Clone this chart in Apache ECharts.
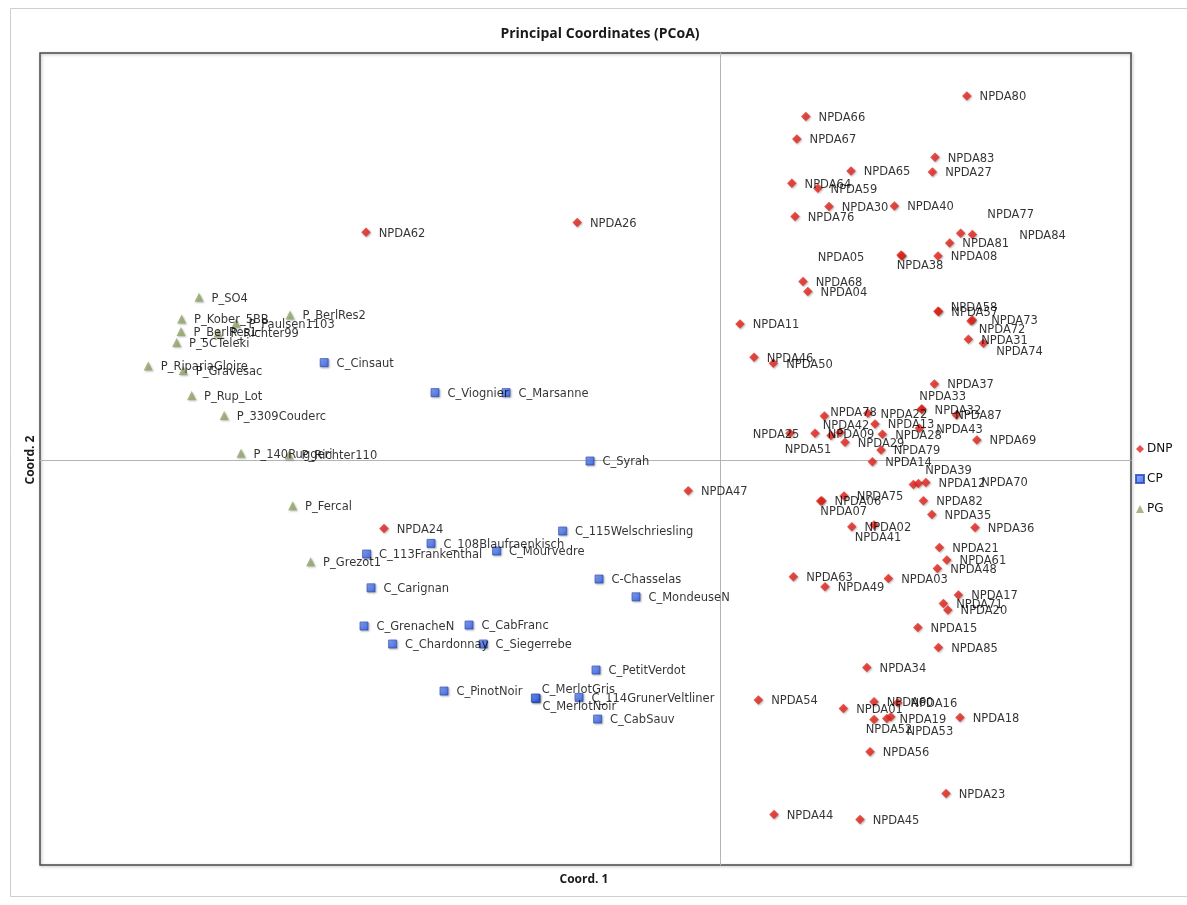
<!DOCTYPE html>
<html>
<head>
<meta charset="utf-8">
<title>Principal Coordinates (PCoA)</title>
<script src="https://cdn.jsdelivr.net/npm/echarts@6/dist/echarts.min.js"></script>
<style>
  html, body { margin: 0; padding: 0; background: #ffffff; }
  #chart { width: 1187px; height: 905px; }
</style>
</head>
<body>
<div id="chart"></div>
<script>
// ---- PCoA scores: Coord. 1 (x) and Coord. 2 (y) for each accession ----

const dnpNames = [
  'NPDA80','NPDA66','NPDA67','NPDA83','NPDA65','NPDA27','NPDA64','NPDA59','NPDA30','NPDA40',
  'NPDA76','NPDA77','NPDA84','NPDA81','NPDA08','NPDA38','NPDA05','NPDA68','NPDA04','NPDA58',
  'NPDA57','NPDA73','NPDA72','NPDA31','NPDA74','NPDA11','NPDA46','NPDA50','NPDA37','NPDA33',
  'NPDA32','NPDA87','NPDA78','NPDA22','NPDA42','NPDA13','NPDA25','NPDA09','NPDA28','NPDA43',
  'NPDA51','NPDA29','NPDA79','NPDA69','NPDA14','NPDA39','NPDA70','NPDA12','NPDA47','NPDA75',
  'NPDA06','NPDA07','NPDA82','NPDA35','NPDA36','NPDA02','NPDA41','NPDA21','NPDA61','NPDA48',
  'NPDA63','NPDA49','NPDA03','NPDA17','NPDA71','NPDA20','NPDA15','NPDA85','NPDA34','NPDA54',
  'NPDA01','NPDA60','NPDA16','NPDA19','NPDA53','NPDA52','NPDA18','NPDA56','NPDA23','NPDA44',
  'NPDA45','NPDA62','NPDA26','NPDA24'
];
const dnpScores = [
  [0.1234,0.1820],[0.0429,0.1717],[0.0384,0.1605],[0.1075,0.1514],[0.0655,0.1445],
  [0.1062,0.1440],[0.0359,0.1384],[0.0489,0.1359],[0.0545,0.1267],[0.0872,0.1270],
  [0.0375,0.1217],[0.1203,0.1134],[0.1262,0.1127],[0.1148,0.1085],[0.1090,0.1020],
  [0.0910,0.1020],[0.0905,0.1025],[0.0415,0.0892],[0.0439,0.0842],[0.1090,0.0744],
  [0.1093,0.0743],[0.1262,0.0700],[0.1255,0.0695],[0.1242,0.0604],[0.1317,0.0584],
  [0.0100,0.0680],[0.0170,0.0514],[0.0267,0.0484],[0.1072,0.0380],[0.1008,0.0255],
  [0.1009,0.0254],[0.1182,0.0225],[0.0522,0.0220],[0.0739,0.0234],[0.0600,0.0137],
  [0.0775,0.0180],[0.0350,0.0134],[0.0475,0.0134],[0.0812,0.0129],[0.0997,0.0159],
  [0.0555,0.0122],[0.0625,0.0089],[0.0805,0.0050],[0.1284,0.0100],[0.0762,-0.0009],
  [0.0967,-0.0122],[0.0992,-0.0117],[0.1029,-0.0112],[-0.0159,-0.0154],[0.0620,-0.0180],
  [0.0509,-0.0204],[0.0503,-0.0205],[0.1017,-0.0204],[0.1059,-0.0272],[0.1275,-0.0337],
  [0.0659,-0.0334],[0.0770,-0.0325],[0.1097,-0.0437],[0.1134,-0.0500],[0.1087,-0.0542],
  [0.0367,-0.0584],[0.0525,-0.0634],[0.0842,-0.0592],[0.1192,-0.0675],[0.1117,-0.0717],
  [0.1139,-0.0750],[0.0989,-0.0837],[0.1092,-0.0937],[0.0734,-0.1037],[0.0192,-0.1200],
  [0.0617,-0.1242],[0.0770,-0.1209],[0.0889,-0.1214],[0.0834,-0.1292],[0.0854,-0.1284],
  [0.0770,-0.1297],[0.1200,-0.1287],[0.0750,-0.1459],[0.1130,-0.1667],[0.0270,-0.1772],
  [0.0700,-0.1797],[-0.1770,0.1139],[-0.0714,0.1187],[-0.1680,-0.0342]
];

const cpNames = [
  'C_Cinsaut','C_Viognier','C_Marsanne','C_Syrah','C_115Welschriesling','C_108Blaufraenkisch',
  'C_113Frankenthal','C_Mourvedre','C-Chasselas','C_MondeuseN','C_Carignan','C_GrenacheN',
  'C_CabFranc','C_Chardonnay','C_Siegerrebe','C_PetitVerdot','C_PinotNoir','C_MerlotNoir',
  'C_MerlotGris','C_114GrunerVeltliner','C_CabSauv'
];
const cpScores = [
  [-0.1979,0.0487],[-0.1425,0.0337],[-0.1070,0.0337],[-0.0650,-0.0005],[-0.0787,-0.0355],
  [-0.1445,-0.0417],[-0.1767,-0.0470],[-0.1117,-0.0455],[-0.0605,-0.0595],[-0.0420,-0.0684],
  [-0.1745,-0.0639],[-0.1780,-0.0830],[-0.1255,-0.0825],[-0.1637,-0.0920],[-0.1184,-0.0920],
  [-0.0620,-0.1050],[-0.1380,-0.1155],[-0.0920,-0.1192],[-0.0923,-0.1190],[-0.0705,-0.1187],
  [-0.0612,-0.1295]
];

const pgNames = [
  'P_SO4','P_Kober_5BB','P_BerlRes2','P_Paulsen1103','P_Richter99','P_BerlRes1','P_5CTeleki',
  'P_RipariaGloire','P_Gravesac','P_Rup_Lot','P_3309Couderc','P_140Ruggeri','P_Richter110',
  'P_Fercal','P_Grezot1'
];
const pgScores = [
  [-0.2605,0.0814],[-0.2692,0.0705],[-0.2150,0.0725],[-0.2420,0.0684],[-0.2510,0.0635],
  [-0.2695,0.0642],[-0.2717,0.0587],[-0.2859,0.0470],[-0.2684,0.0447],[-0.2642,0.0322],
  [-0.2479,0.0222],[-0.2395,0.0034],[-0.2155,0.0025],[-0.2137,-0.0229],[-0.2047,-0.0509]
];

const groupNames = ['DNP', 'CP', 'PG'];

// Hand-placed label nudges (pixels) for crowded points
const labelShift = {
  NPDA77: [14, -20], NPDA84: [34, 0], NPDA38: [-18, 9], NPDA05: [-96, 2],
  NPDA58: [0, -5], NPDA73: [6, 0], NPDA72: [-5, 8], NPDA74: [0, 7],
  NPDA33: [-15, -13], NPDA87: [-14, 0], NPDA78: [-7, -4], NPDA42: [-30, -8],
  NPDA25: [-50, 0], NPDA43: [4, 0], NPDA51: [-59, 13], NPDA39: [-1, -15],
  NPDA70: [50, -2], NPDA07: [-13, 10], NPDA41: [-32, 12], NPDA53: [3, 14],
  NPDA52: [-21, 9], C_MerlotNoir: [-6, 7], C_MerlotGris: [-6, -9]
};

function buildPoints(names, scores) {
  return names.map(function (n, i) {
    return { name: n, value: scores[i] };
  });
}

// Shift labels of crowded points; all labels sit a touch below the mark centre
function shiftLabels(names) {
  return function (params) {
    const s = labelShift[names[params.dataIndex]] || [0, 0];
    return { dx: s[0], dy: s[1] + 1.5 };
  };
}

const labelFont = {
  show: true,
  position: 'right',
  distance: 8,
  formatter: '{b}',
  fontFamily: 'DejaVu Sans',
  fontSize: 11.5,
  color: '#000000'
};

const markShadow = {
  shadowColor: 'rgba(0,0,0,0.35)',
  shadowBlur: 2,
  shadowOffsetX: 1,
  shadowOffsetY: 1
};

const chart = echarts.init(document.getElementById('chart'), null, { renderer: 'canvas' });

chart.setOption({
  animation: false,
  backgroundColor: '#ffffff',
  grid: {
    left: 40, right: 56, top: 53, bottom: 40,
    show: true,
    borderColor: '#4a4a4a',
    borderWidth: 1.5,
    shadowColor: 'rgba(0,0,0,0.3)',
    shadowBlur: 3,
    shadowOffsetX: 1,
    shadowOffsetY: 1
  },
  xAxis: {
    type: 'value',
    min: -0.34, max: 0.2055,
    axisLine: { show: true, onZero: true, lineStyle: { color: '#b4b4b4', width: 1 } },
    axisTick: { show: false },
    axisLabel: { show: false },
    splitLine: { show: false }
  },
  yAxis: {
    type: 'value',
    min: -0.2025, max: 0.2035,
    axisLine: { show: true, onZero: true, lineStyle: { color: '#b4b4b4', width: 1 } },
    axisTick: { show: false },
    axisLabel: { show: false },
    splitLine: { show: false }
  },
  legend: {
    data: groupNames,
    orient: 'vertical',
    left: 1135,
    top: 443,
    itemWidth: 8,
    itemHeight: 8,
    itemGap: 18,
    padding: 0,
    textStyle: { fontFamily: 'DejaVu Sans', fontSize: 12, color: '#111111', padding: [0, 0, 0, -2] }
  },
  graphic: [
    {
      type: 'rect', silent: true, z: -10,
      shape: { x: 10.5, y: 8.5, width: 1190, height: 888 },
      style: { fill: 'none', stroke: '#cfcfcf', lineWidth: 1 }
    },
    {
      type: 'text', silent: true,
      style: {
        text: 'Principal Coordinates (PCoA)', x: 600, y: 34,
        align: 'center', verticalAlign: 'middle',
        font: 'bold 14px "Liberation Sans Narrow", "Open Sans", sans-serif',
        fill: '#1a1a1a'
      }
    },
    {
      type: 'text', silent: true,
      style: {
        text: 'Coord. 1', x: 584, y: 880,
        align: 'center', verticalAlign: 'middle',
        font: 'bold 12px "Liberation Sans Narrow", "Open Sans", sans-serif',
        fill: '#1a1a1a'
      }
    },
    {
      type: 'text', silent: true,
      x: 31, y: 460, rotation: Math.PI / 2,
      style: {
        text: 'Coord. 2', x: 0, y: 0,
        align: 'center', verticalAlign: 'middle',
        font: 'bold 12px "Liberation Sans Narrow", "Open Sans", sans-serif',
        fill: '#1a1a1a'
      }
    }
  ],
  series: [
    {
      name: 'DNP', type: 'scatter', symbol: 'diamond', symbolSize: 9.5,
      itemStyle: Object.assign({ color: '#e3241b' }, markShadow),
      label: labelFont,
      labelLayout: shiftLabels(dnpNames),
      data: buildPoints(dnpNames, dnpScores)
    },
    {
      name: 'CP', type: 'scatter', symbol: 'rect', symbolSize: 8,
      itemStyle: Object.assign({
        color: new echarts.graphic.LinearGradient(0, 0, 1, 1, [
          { offset: 0, color: '#7fa4ff' },
          { offset: 1, color: '#1e4fe6' }
        ]),
        borderColor: '#2346b8', borderWidth: 0.8
      }, markShadow),
      label: labelFont,
      labelLayout: shiftLabels(cpNames),
      data: buildPoints(cpNames, cpScores)
    },
    {
      name: 'PG', type: 'scatter', symbol: 'triangle', symbolSize: 9,
      itemStyle: Object.assign({ color: '#93a66a' }, markShadow),
      label: labelFont,
      labelLayout: shiftLabels(pgNames),
      data: buildPoints(pgNames, pgScores)
    }
  ]
});
</script>
</body>
</html>
